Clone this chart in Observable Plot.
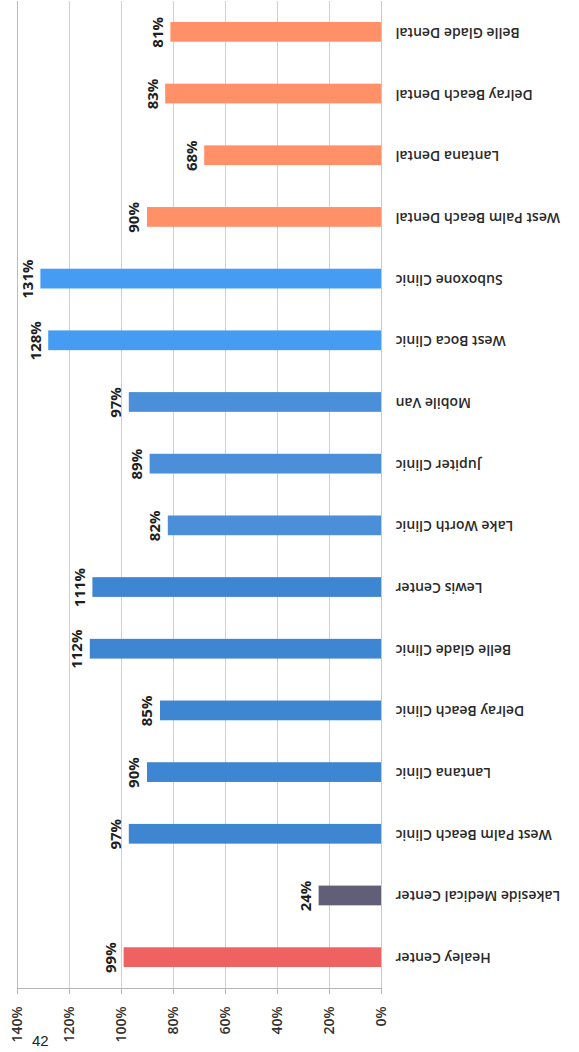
<!DOCTYPE html>
<html>
<head>
<meta charset="utf-8">
<script src="https://cdn.jsdelivr.net/npm/d3@7"></script>
<script src="https://cdn.jsdelivr.net/npm/@observablehq/plot@0.6"></script>
<style>
  html, body { margin: 0; padding: 0; background: #fff; width: 579px; height: 1052px; overflow: hidden; }
  #chart { position: relative; }
  .pagenum { position: absolute; left: 32px; top: 1033px; font: 15px "Liberation Sans", sans-serif; line-height: 16px; color: #222; }
</style>
</head>
<body>
<div id="chart"></div>
<script>
const categories = [
  "Healey Center", "Lakeside Medical Center", "West Palm Beach Clinic", "Lantana Clinic",
  "Delray Beach Clinic", "Belle Glade Clinic", "Lewis Center", "Lake Worth Clinic",
  "Jupiter Clinic", "Mobile Van", "West Boca Clinic", "Suboxone Clinic",
  "West Palm Beach Dental", "Lantana Dental", "Delray Beach Dental", "Belle Glade Dental"
];
const values = [99, 24, 97, 90, 85, 112, 111, 82, 89, 97, 128, 131, 90, 68, 83, 81];
const groups = [
  "Healey", "Lakeside", "ClinicA", "ClinicA", "ClinicA", "ClinicA", "ClinicA", "ClinicB",
  "ClinicB", "ClinicB", "ClinicC", "ClinicC", "Dental", "Dental", "Dental", "Dental"
];
const groupNames = ["Healey", "Lakeside", "ClinicA", "ClinicB", "ClinicC", "Dental"];
const groupColors = ["#ef6262", "#5f5f78", "#3f86d2", "#4a8fd8", "#459cf2", "#ff9068"];
const tickValues = [0, 20, 40, 60, 80, 100, 120, 140];

const data = categories.map((c, i) => ({ name: c, value: values[i], group: groups[i] }));
const order = categories.slice().reverse();

const chart = Plot.plot({
  width: 579,
  height: 1052,
  marginLeft: 17,
  marginRight: 198,
  marginTop: 1,
  marginBottom: 64,
  style: { background: "#fff", fontFamily: "'Open Sans', sans-serif" },
  x: { domain: [0, 140], reverse: true },
  y: { domain: order, paddingInner: 0.68, paddingOuter: 0.34, round: false },
  color: { domain: groupNames, range: groupColors },
  marks: [
    Plot.gridX(tickValues, { stroke: "#cfcfcf", strokeOpacity: 1, strokeWidth: 1 }),
    Plot.ruleX([140], { stroke: "#bbb" }),
    Plot.ruleX([0], { stroke: "#c8c8c8" }),
    Plot.frame({ anchor: "bottom", stroke: "#b5b5b5" }),
    Plot.barX(data, { x: "value", y: "name", fill: "group" }),
    Plot.text(data, {
      x: "value", y: "name", text: d => d.value + "%",
      rotate: -90, dx: -13, textAnchor: "middle",
      fontWeight: "bold", fontSize: 15, fill: "#1e1e1e"
    }),
    Plot.text(data, {
      x: 0, y: "name", text: "name",
      rotate: 180, dx: 14, textAnchor: "end",
      fontSize: 14, fontWeight: 600, fill: "#2a2a2a"
    }),
    Plot.axisX(tickValues, {
      anchor: "bottom", tickSize: 6, tickPadding: 12, tickRotate: -90,
      tickFormat: d => d + "%", fontSize: 14, fontWeight: 600, fill: "#333", stroke: "#b5b5b5",
      label: null
    }),
    Plot.axisY({ ticks: [], label: null })
  ]
});
document.getElementById("chart").append(chart);
const pn = document.createElement("div");
pn.className = "pagenum";
pn.textContent = "42";
document.getElementById("chart").append(pn);
</script>
</body>
</html>
